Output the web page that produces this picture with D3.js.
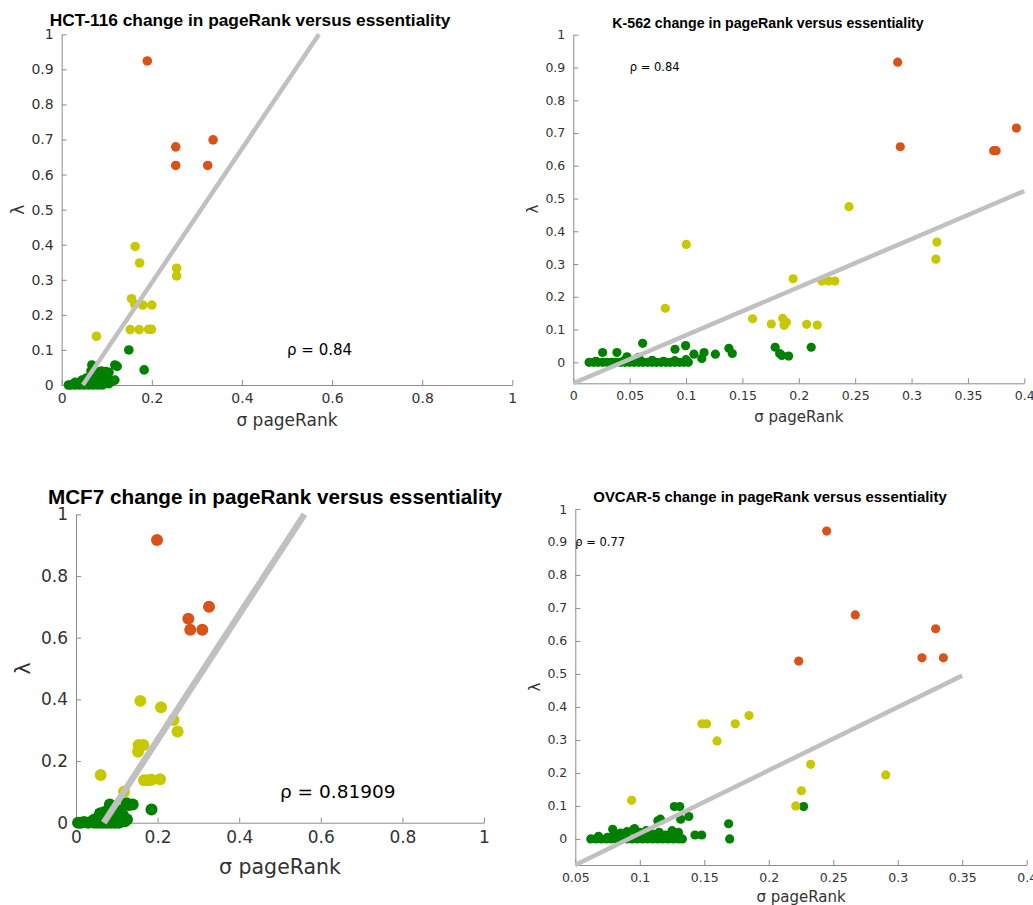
<!DOCTYPE html>
<html>
<head>
<meta charset="utf-8">
<script src="https://cdn.jsdelivr.net/npm/d3@7"></script>
<style>
  body { margin: 0; background: #fff; }
  .tick text { font-family: "DejaVu Sans", sans-serif; fill: #333; }
  .title { font-family: "Liberation Sans", Arial, sans-serif; font-weight: bold; fill: #000; }
  .lab { font-family: "DejaVu Sans", sans-serif; fill: #333; }
</style>
</head>
<body>
<div id="chart"></div>
<script>

// ---------- data (x = sigma pageRank, y = lambda) ----------

// HCT-116
const hctGreen = [[0.015,0],[0.02,0],[0.025,0.002],[0.03,0],[0.035,0.005],[0.04,0],[0.045,0.008],[0.05,0],[0.055,0.004],
  [0.06,0],[0.065,0.006],[0.07,0],[0.075,0.003],[0.08,0],[0.085,0.005],[0.09,0],[0.095,0.003],[0.1,0.008],[0.105,0.004],
  [0.11,0.01],[0.118,0.014],[0.03,0.008],[0.045,0.014],[0.055,0.02],[0.06,0.015],[0.065,0.04],[0.07,0.025],[0.075,0.032],
  [0.08,0.036],[0.085,0.02],[0.09,0.03],[0.095,0.018],[0.1,0.026],[0.105,0.036],[0.067,0.057],[0.07,0.045],[0.088,0.04],
  [0.098,0.038],[0.112,0.012],[0.118,0.057],[0.123,0.053],[0.149,0.1],[0.183,0.043]];
const hctYellow = [[0.163,0.395],[0.173,0.348],[0.255,0.333],[0.255,0.311],[0.155,0.246],[0.162,0.23],[0.18,0.228],
  [0.2,0.228],[0.152,0.158],[0.172,0.158],[0.193,0.159],[0.199,0.159],[0.077,0.139]];
const hctRed = [[0.19,0.924],[0.253,0.679],[0.253,0.626],[0.324,0.626],[0.336,0.699]];
const hctFit = [[0.047,0],[0.571,1]];

// K-562
const k562Green = [[0.014,0],[0.018,0],[0.022,0],[0.026,0],[0.03,0],[0.034,0],[0.038,0],[0.042,0],[0.046,0],[0.05,0],
  [0.054,0],[0.058,0],[0.062,0],[0.066,0],[0.07,0],[0.074,0],[0.078,0],[0.082,0],[0.086,0],[0.09,0],[0.094,0],[0.098,0],
  [0.102,0],[0.02,0.003],[0.045,0.005],[0.06,0.004],[0.07,0.006],[0.08,0.003],[0.09,0.005],[0.1,0.008],
  [0.026,0.03],[0.0387,0.03],[0.0476,0.017],[0.058,0.015],[0.0615,0.058],[0.0902,0.04],[0.0996,0.051],[0.107,0.025],
  [0.116,0.03],[0.114,0.012],[0.126,0.025],[0.138,0.043],[0.141,0.027],[0.179,0.046],[0.183,0.027],[0.185,0.021],
  [0.191,0.019],[0.211,0.046]];
const k562Yellow = [[0.2445,0.475],[0.1002,0.36],[0.3225,0.367],[0.3216,0.315],[0.195,0.255],[0.2205,0.248],[0.2265,0.248],
  [0.232,0.248],[0.0816,0.165],[0.159,0.133],[0.1756,0.117],[0.1857,0.134],[0.189,0.122],[0.187,0.113],[0.207,0.116],[0.2164,0.114]];
const k562Red = [[0.2877,0.916],[0.29,0.658],[0.3728,0.646],[0.375,0.646],[0.393,0.715]];
const k562Fit = [[0,-0.064],[0.4,0.523]];

// MCF7
const mcfGreen = [[0.005,0],[0.012,0],[0.02,0.002],[0.03,0],[0.038,0.003],[0.045,0],[0.05,0.005],[0.055,0],[0.06,0.002],
  [0.065,0],[0.07,0.004],[0.075,0],[0.08,0.003],[0.085,0],[0.09,0.002],[0.095,0],[0.1,0.004],[0.105,0],[0.11,0.003],
  [0.115,0.008],[0.12,0.005],[0.125,0.01],[0.045,0.01],[0.055,0.015],[0.06,0.03],[0.065,0.02],[0.07,0.035],[0.075,0.025],
  [0.08,0.04],[0.085,0.02],[0.09,0.045],[0.095,0.03],[0.1,0.035],[0.105,0.02],[0.11,0.04],[0.115,0.025],[0.083,0.059],
  [0.124,0.063],[0.139,0.059],[0.13,0.057],[0.185,0.043],[0.059,0.03]];
const mcfYellow = [[0.1577,0.395],[0.2083,0.374],[0.239,0.333],[0.249,0.296],[0.1536,0.252],[0.165,0.252],[0.152,0.23],
  [0.0605,0.155],[0.1667,0.138],[0.185,0.139],[0.206,0.141],[0.176,0.138],[0.1176,0.1]];
const mcfRed = [[0.1985,0.917],[0.2753,0.661],[0.28,0.626],[0.3096,0.626],[0.326,0.7]];
const mcfFit = [[0.068,0],[0.56,1]];

// OVCAR-5
const ovcGreen = [[0.062,0],[0.066,0],[0.07,0],[0.074,0],[0.078,0],[0.082,0],[0.086,0],[0.09,0],[0.094,0],[0.098,0],
  [0.102,0],[0.106,0],[0.11,0],[0.114,0],[0.118,0],[0.122,0],[0.126,0],[0.13,0],[0.133,0],[0.068,0.008],[0.075,0.005],
  [0.08,0.012],[0.085,0.018],[0.09,0.022],[0.095,0.028],[0.1,0.02],[0.105,0.025],[0.11,0.015],[0.115,0.02],[0.12,0.012],
  [0.125,0.025],[0.13,0.02],[0.079,0.029],[0.096,0.031],[0.114,0.055],[0.116,0.06],[0.1268,0.098],[0.131,0.098],
  [0.138,0.068],[0.1317,0.06],[0.1428,0.012],[0.148,0.012],[0.1689,0.046],[0.1697,0],[0.227,0.098]];
const ovcYellow = [[0.1847,0.374],[0.1482,0.349],[0.1518,0.349],[0.174,0.349],[0.1599,0.297],[0.2325,0.226],
  [0.2907,0.194],[0.2253,0.146],[0.0937,0.117],[0.2209,0.1]];
const ovcRed = [[0.2449,0.933],[0.2671,0.679],[0.3294,0.637],[0.2232,0.539],[0.3188,0.549],[0.3354,0.549]];
const ovcFit = [[0.05,-0.079],[0.35,0.495]];

// tick values
const ticksTenth = [0,0.1,0.2,0.3,0.4,0.5,0.6,0.7,0.8,0.9,1];
const ticksFifth = [0,0.2,0.4,0.6,0.8,1];
const ticksK562X = [0,0.05,0.1,0.15,0.2,0.25,0.3,0.35,0.4];
const ticksOvcX = [0.05,0.1,0.15,0.2,0.25,0.3,0.35,0.4];

// correlation labels
const rhoLabels = ["ρ = 0.84", "ρ = 0.84", "ρ = 0.81909", "ρ = 0.77"];
const cellLines = ["HCT-116", "K-562", "MCF7", "OVCAR-5"];

const colGreen = "#008000", colYellow = "#c8c800", colRed = "#d95319", colFit = "#c0c0c0";

// ---------- layout ----------
const W = 1033, H = 905;
const svg = d3.select("#chart").append("svg").attr("width", W).attr("height", H);

let panels = [
  {green: hctGreen, yellow: hctYellow, red: hctRed, fit: hctFit, rho: rhoLabels[0], rhoAt: [0.5, 0.1],
   left: 61.7, right: 512.3, top: 34.3, bottom: 385, xDom: [0, 1], yDom: [0, 1], xTicks: ticksFifth, yTicks: ticksTenth,
   tickFont: 14, titleFont: 17.3, titleX: 250, titleY: 20, labelFont: 17, xLabelY: 420, yLabelX: 18, rhoFont: 15, r: 4.8, lw: 4.5},
  {green: k562Green, yellow: k562Yellow, red: k562Red, fit: k562Fit, rho: rhoLabels[1], rhoAt: [0.05, 0.9],
   left: 573.3, right: 1024.3, top: 34.7, bottom: 383.3, xDom: [0, 0.4], yDom: [-0.064, 1], xTicks: ticksK562X, yTicks: ticksTenth,
   tickFont: 12.5, titleFont: 14.2, titleX: 768, titleY: 23, labelFont: 15, xLabelY: 417, yLabelX: 533, rhoFont: 11.5, r: 4.6, lw: 4.5},
  {green: mcfGreen, yellow: mcfYellow, red: mcfRed, fit: mcfFit, rho: rhoLabels[2], rhoAt: [0.5, 0.1],
   left: 76, right: 484, top: 514.3, bottom: 822.7, xDom: [0, 1], yDom: [0, 1], xTicks: ticksFifth, yTicks: ticksFifth,
   tickFont: 17, titleFont: 20.7, titleX: 275, titleY: 496, labelFont: 20.5, xLabelY: 867, yLabelX: 23, rhoFont: 18.5, r: 6, lw: 6.5},
  {green: ovcGreen, yellow: ovcYellow, red: ovcRed, fit: ovcFit, rho: rhoLabels[3], rhoAt: [0.05, 0.9],
   left: 575.3, right: 1026.7, top: 509, bottom: 865, xDom: [0.05, 0.4], yDom: [-0.079, 1], xTicks: ticksOvcX, yTicks: ticksTenth,
   tickFont: 12.5, titleFont: 14.9, titleX: 770, titleY: 497, labelFont: 15, xLabelY: 897, yLabelX: 535, rhoFont: 11.5, r: 4.6, lw: 4.5}
];

panels.forEach((p, i) => {
  let g = svg.append("g").attr("class", "panel");

  let x = d3.scaleLinear().domain(p.xDom).range([p.left, p.right]);
  let y = d3.scaleLinear().domain(p.yDom).range([p.bottom, p.top]);

  // axes, ticks pointing inward
  let xAxis = d3.axisBottom(x).tickValues(p.xTicks).tickFormat(d => String(+d.toFixed(2)))
      .tickSizeInner(-5).tickSizeOuter(0).tickPadding(8);
  let yAxis = d3.axisLeft(y).tickValues(p.yTicks).tickFormat(d => String(+d.toFixed(2)))
      .tickSizeInner(-5).tickSizeOuter(0).tickPadding(8);

  g.append("g").attr("transform", `translate(0,${p.bottom})`).call(xAxis);
  g.append("g").attr("transform", `translate(${p.left},0)`).call(yAxis);

  g.selectAll(".domain, .tick line").attr("stroke", "#8c8c8c");
  g.selectAll(".tick text").style("font-size", p.tickFont + "px");

  // scatter: green, yellow, red
  [[p.green, colGreen], [p.yellow, colYellow], [p.red, colRed]].forEach(([pts, c]) => {
    g.append("g").selectAll("circle")
      .data(pts)
      .enter().append("circle")
      .attr("cx", d => x(d[0]))
      .attr("cy", d => y(d[1]))
      .attr("r", p.r)
      .attr("fill", c);
  });

  // fit line on top
  g.append("path")
    .datum(p.fit)
    .attr("d", d3.line().x(d => x(d[0])).y(d => y(d[1])))
    .attr("stroke", colFit)
    .attr("stroke-width", p.lw)
    .attr("fill", "none");

  // rho
  g.append("text").attr("class", "lab")
    .attr("x", x(p.rhoAt[0])).attr("y", y(p.rhoAt[1]))
    .attr("dominant-baseline", "central")
    .style("font-size", p.rhoFont + "px")
    .style("fill", "#000")
    .text(p.rho);

  // title
  g.append("text").attr("class", "title")
    .attr("x", p.titleX).attr("y", p.titleY)
    .attr("text-anchor", "middle").attr("dominant-baseline", "central")
    .style("font-size", p.titleFont + "px")
    .text(cellLines[i] + " change in pageRank versus essentiality");

  // axis labels
  g.append("text").attr("class", "lab")
    .attr("x", (p.left + p.right) / 2).attr("y", p.xLabelY)
    .attr("text-anchor", "middle").attr("dominant-baseline", "central")
    .style("font-size", p.labelFont + "px")
    .text("σ pageRank");

  g.append("text").attr("class", "lab")
    .attr("transform", `translate(${p.yLabelX},${(p.top + p.bottom) / 2}) rotate(-90)`)
    .attr("text-anchor", "middle").attr("dominant-baseline", "central")
    .style("font-size", p.labelFont + "px")
    .text("λ");
});

</script>
</body>
</html>
